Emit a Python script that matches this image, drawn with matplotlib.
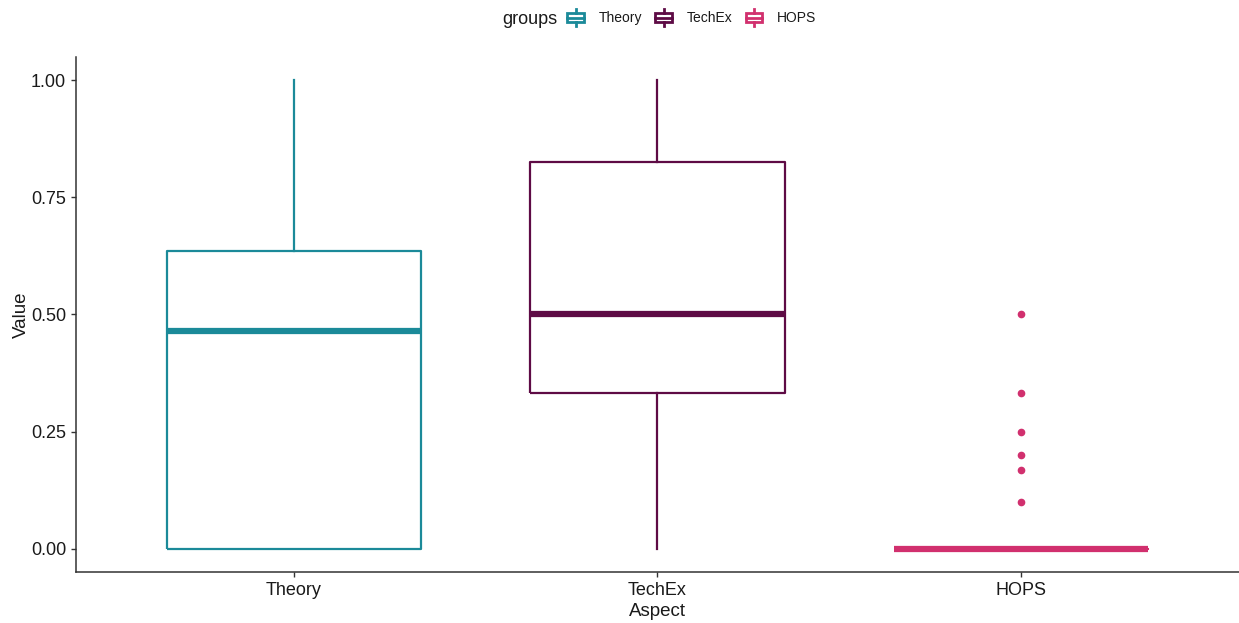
import matplotlib
matplotlib.use("Agg")
import matplotlib.pyplot as plt
from matplotlib.legend_handler import HandlerBase
from matplotlib.patches import Rectangle
from matplotlib.lines import Line2D

plt.rcParams['font.family'] = ['Liberation Sans', 'DejaVu Sans']

# Summary statistics per aspect
aspects = ["Theory", "TechEx", "HOPS"]
colors = ["#1B8A99", "#5E0B45", "#D1306E"]
whisker_low = [0.0, 0.0, 0.0]
q1 = [0.0, 0.333, 0.0]
median = [0.465, 0.5, 0.0]
q3 = [0.635, 0.825, 0.0]
whisker_high = [1.0, 1.0, 0.0]
outliers = [[], [], [0.5, 0.333, 0.25, 0.2, 0.167, 0.1]]
y_ticks = [0.0, 0.25, 0.5, 0.75, 1.0]
y_ticklabels = ["0.00", "0.25", "0.50", "0.75", "1.00"]

fig = plt.figure(figsize=(12.39, 6.23), dpi=100)
ax = fig.add_axes([0.0613, 0.0819, 0.9387, 0.8266])

for i, name in enumerate(aspects):
    stats = [dict(med=median[i], q1=q1[i], q3=q3[i], whislo=whisker_low[i],
                  whishi=whisker_high[i], fliers=outliers[i], label=name)]
    c = colors[i]
    ax.bxp(stats, positions=[i + 1], widths=0.7, showcaps=False,
           boxprops=dict(color=c, linewidth=1.6, solid_capstyle='butt'),
           whiskerprops=dict(color=c, linewidth=1.6),
           medianprops=dict(color=c, linewidth=4.5, solid_capstyle='butt'),
           flierprops=dict(marker='o', markerfacecolor=c, markeredgecolor=c,
                           markersize=4.5, linestyle='none'))

ax.set_xlim(0.4, 3.6)
ax.set_ylim(-0.05, 1.05)
ax.set_xticks([1, 2, 3])
ax.set_xticklabels(aspects)
ax.set_yticks(y_ticks)
ax.set_yticklabels(y_ticklabels)
ax.tick_params(axis='both', labelsize=13, colors='#333333', length=3.5, width=1.0,
               labelcolor='#1a1a1a')
for side in ['top', 'right']:
    ax.spines[side].set_visible(False)
for side in ['left', 'bottom']:
    ax.spines[side].set_color('#333333')
    ax.spines[side].set_linewidth(1.1)
ax.set_xlabel("Aspect", fontsize=13.5, labelpad=3, color='#1a1a1a')
ax.set_ylabel("Value", fontsize=13.5, labelpad=1, color='#1a1a1a')


class BoxKeyHandler(HandlerBase):
    def create_artists(self, legend, orig_handle, xdescent, ydescent, width, height,
                       fontsize, trans):
        c = orig_handle.get_color()
        cx = width / 2 - xdescent
        bw = width * 0.86
        bh = height * 0.6
        y0 = -ydescent + height / 2
        rect = Rectangle((cx - bw / 2, y0 - bh / 2), bw, bh, fill=False,
                         edgecolor=c, linewidth=2.0, transform=trans)
        med = Line2D([cx - bw / 2, cx + bw / 2], [y0, y0], color=c, linewidth=2.0,
                     transform=trans)
        wt = Line2D([cx, cx], [y0 + bh / 2, height - ydescent], color=c,
                    linewidth=2.0, transform=trans)
        wb = Line2D([cx, cx], [y0 - bh / 2, -ydescent], color=c,
                    linewidth=2.0, transform=trans)
        return [rect, med, wt, wb]


fig.text(502 / 1239, 1 - 19 / 623, "groups", fontsize=13, color='#1a1a1a',
         ha='left', va='center')
handles = [Line2D([], [], color=c) for c in colors]
leg = fig.legend(handles, aspects, loc='center left',
                 bbox_to_anchor=(566 / 1239, 1 - 17.5 / 623),
                 ncol=3, frameon=False, fontsize=10,
                 handler_map={Line2D: BoxKeyHandler()},
                 handlelength=1.4, handleheight=1.45, handletextpad=0.95,
                 columnspacing=0.85, borderpad=0.0, borderaxespad=0.0)
for t in leg.get_texts():
    t.set_color('#1a1a1a')

fig.savefig("out.png", dpi=100, facecolor='white')
